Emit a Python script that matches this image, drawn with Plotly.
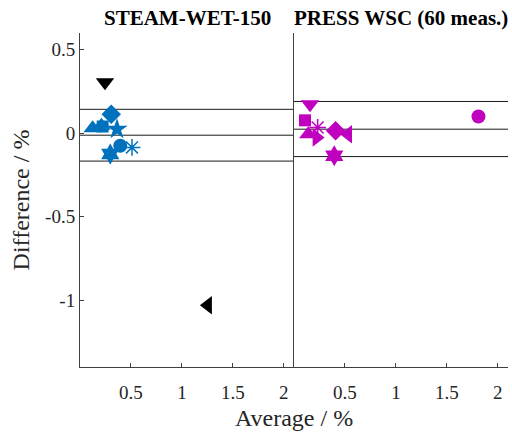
import plotly.graph_objects as go
from plotly.subplots import make_subplots

# ---- data ----
panel_titles = ["STEAM-WET-150", "PRESS WSC (60 meas.)"]

# left panel (STEAM-WET-150)
left_x = [0.124, 0.21, 0.222, 0.307, 0.363, 0.395, 0.51, 0.297, 0.245, 1.255]
left_y = [0.030, 0.045, 0.040, 0.113, 0.024, -0.075, -0.085, -0.125, 0.305, -1.03]
left_sym = ["triangle-up", "triangle-up", "square", "diamond", "star", "circle",
            "asterisk-open", "hexagram", "triangle-down", "triangle-left"]
left_col = ["#0072BD"] * 8 + ["#000000", "#000000"]
left_lines = [0.143, -0.012, -0.167]  # upper LoA, mean, lower LoA

# right panel (PRESS WSC)
right_x = [0.157, 0.108, 0.232, 0.14, 0.222, 0.408, 0.53, 0.395, 1.81]
right_y = [0.173, 0.077, 0.034, -0.006, -0.026, 0.014, -0.006, -0.135, 0.10]
right_sym = ["triangle-down", "square", "asterisk-open", "triangle-up", "triangle-right",
             "diamond", "triangle-left", "hexagram", "circle"]
right_col = ["#BF00BF"] * 9
right_lines = [0.19, 0.024, -0.14]

x_ticks = [0.5, 1, 1.5, 2]
y_ticks = [0.5, 0, -0.5, -1]
x_range = [0, 2.1]
y_range = [-1.4, 0.6]

FONT = "Liberation Serif, Times New Roman, serif"

fig = make_subplots(rows=1, cols=2, shared_yaxes=False, horizontal_spacing=0)

SIZES = {"square": 12, "circle": 14, "star": 16, "hexagram": 16, "diamond": 15,
         "asterisk-open": 14}

def add_panel(col, xs, ys, syms, cols, lines):
    for x, y, s, c in zip(xs, ys, syms, cols):
        size = SIZES.get(s, 16)
        lw = 1.5 if s == "asterisk-open" else 0
        fig.add_trace(go.Scatter(x=[x], y=[y], mode="markers",
                                 marker=dict(symbol=s, size=size, color=c,
                                             line=dict(color=c, width=lw)),
                                 showlegend=False), row=1, col=col)
    xref = "x domain" if col == 1 else "x2 domain"
    yref = "y" if col == 1 else "y2"
    for v in lines:
        fig.add_shape(type="line", xref=xref, yref=yref, x0=0, x1=1, y0=v, y1=v,
                      line=dict(color="#1a1a1a", width=1), layer="below")

add_panel(1, left_x, left_y, left_sym, left_col, left_lines)
add_panel(2, right_x, right_y, right_sym, right_col, right_lines)

axis_common = dict(showgrid=False, zeroline=False, showline=True, linecolor="#404040",
                   linewidth=1, mirror=False, tickfont=dict(family=FONT, size=19, color="#262626"))

for c in (1, 2):
    fig.update_xaxes(range=x_range, tickvals=x_ticks, ticktext=["0.5", "1", "1.5", "2"],
                     ticks="inside", ticklen=4, tickcolor="#404040", ticklabelstandoff=8,
                     row=1, col=c, **axis_common)
fig.update_yaxes(range=y_range, tickvals=y_ticks, ticktext=["0.5", "0", "-0.5", "-1"],
                 ticks="inside", ticklen=4, tickcolor="#404040", row=1, col=1,
                 title=dict(text="Difference / %", font=dict(family=FONT, size=24, color="#262626"),
                            standoff=8),
                 **axis_common)
fig.update_yaxes(range=y_range, showticklabels=False, ticks="", row=1, col=2, **axis_common)

# panel titles
fig.add_annotation(text="<b>%s</b>" % panel_titles[0], xref="x domain", yref="paper",
                   x=0.5, y=1.0, yanchor="bottom", yshift=1, showarrow=False,
                   font=dict(family=FONT, size=21, color="#000000"))
fig.add_annotation(text="<b>%s</b>" % panel_titles[1], xref="x2 domain", yref="paper",
                   x=0.5, y=1.0, yanchor="bottom", yshift=1, showarrow=False,
                   font=dict(family=FONT, size=21, color="#000000"))
fig.add_annotation(text="Average / %", xref="paper", yref="paper", x=0.5, y=0,
                   yanchor="top", yshift=-36, showarrow=False,
                   font=dict(family=FONT, size=24, color="#262626"))

fig.update_layout(width=512, height=433, margin=dict(l=80, r=4, t=33, b=66),
                  plot_bgcolor="white", paper_bgcolor="white", showlegend=False)

fig.write_html("out.html")
